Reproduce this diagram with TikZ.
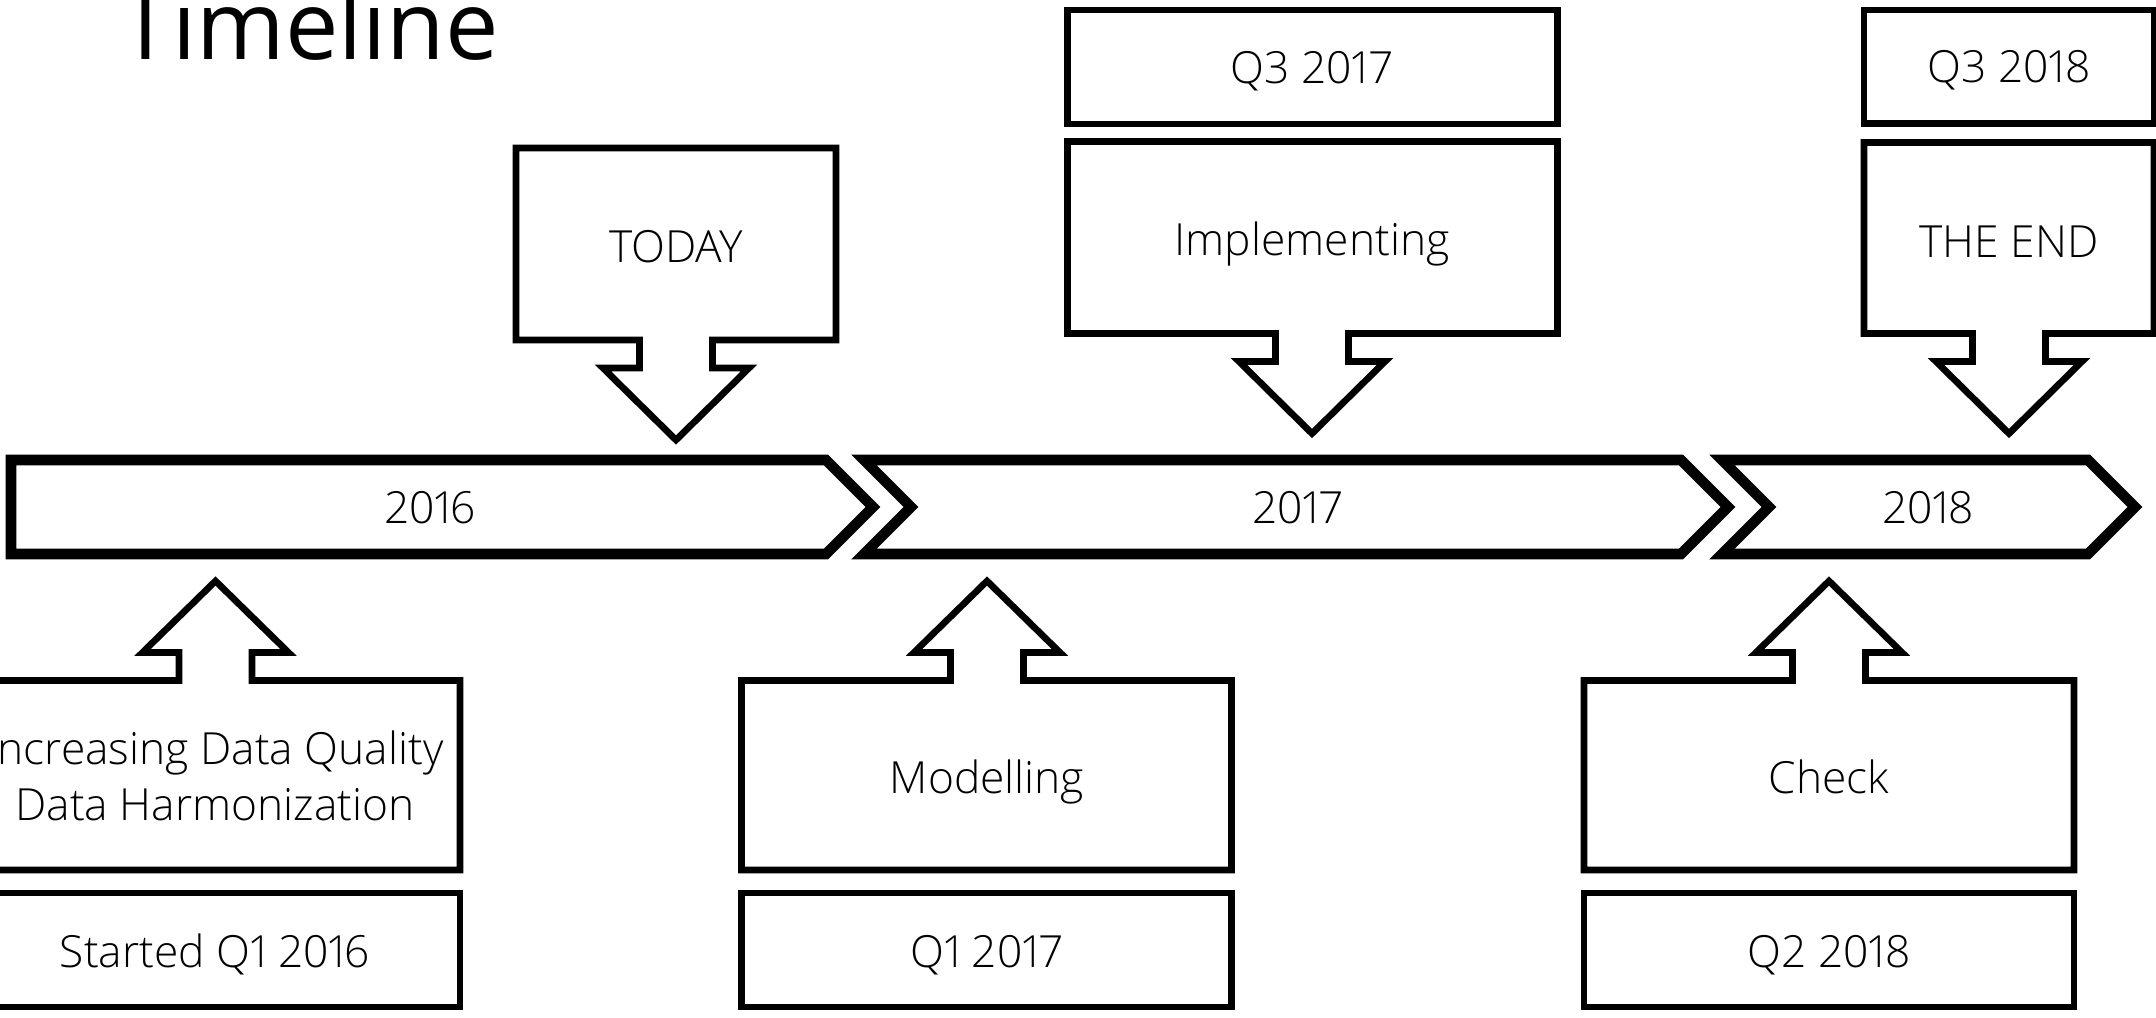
\documentclass[tikz,border=0pt]{standalone}
\usepackage{fontspec}
\setmainfont{Open Sans}[UprightFont={* Light},Numbers=Proportional]
\newfontfamily\headfont{Open Sans}
\usepackage{tikz}
\usetikzlibrary{positioning}

\begin{document}
\begin{tikzpicture}[x=0.01cm,y=-0.01cm,
	bar/.style={draw=black,line width=3pt,fill=white},
	callout/.style={draw=black,line width=1.9pt,fill=white},
	lbl/.style={anchor=base,inner sep=0pt,font=\fontsize{12.6}{15.9}\selectfont}]
	\useasboundingbox (0,0) rectangle (2156,1017);
		\node[anchor=base west,inner sep=0pt,font=\headfont\fontsize{27.1}{30}\selectfont] (title) at (119,59) {Timeline};
	% years
		\draw[bar] (11,460) -- (826,460) -- (873,507) -- (826,554) -- (11,554) -- cycle;
		\draw[bar] (864,460) -- (1681,460) -- (1728,507) -- (1681,554) -- (864,554) -- (911,507) -- cycle;
		\draw[bar] (1722,460) -- (2088,460) -- (2135,507) -- (2088,554) -- (1722,554) -- (1769,507) -- cycle;
		\node[lbl] (y2016) at (430,523) {2016};
		\node[lbl] (y2017) at (1298,523) {2017};
		\node[lbl] (y2018) at (1928,523) {2018};
	% above the line
		\draw[callout] (516,148) -- (836,148) -- (836,340) -- (712.5,340) -- (712.5,368) -- (749,368) -- (676,440) -- (603,368) -- (639.5,368) -- (639.5,340) -- (516,340) -- cycle;
		\node[lbl] (today) at (676,262) {TODAY};
		\draw[callout] (1067.5,10) rectangle (1557.5,124);
		\draw[callout] (1067.5,141.5) -- (1557.5,141.5) -- (1557.5,333.5) -- (1348.5,333.5) -- (1348.5,361.5) -- (1385,361.5) -- (1312,433.5) -- (1239,361.5) -- (1275.5,361.5) -- (1275.5,333.5) -- (1067.5,333.5) -- cycle;
		\node[lbl] (qthree17) at (1312,83) {Q3 2017};
		\node[lbl] (impl) at (1312,255) {Implementing};
		\draw[callout] (1864,10) rectangle (2154,123.5);
		\draw[callout] (1864,142.5) -- (2154,142.5) -- (2154,333.5) -- (2045.5,333.5) -- (2045.5,361.5) -- (2082,361.5) -- (2009,433.5) -- (1936,361.5) -- (1972.5,361.5) -- (1972.5,333.5) -- (1864,333.5) -- cycle;
		\node[lbl] (qthree18) at (2009,82) {Q3 2018};
		\node[lbl] (theend) at (2009,257) {THE END};
	% below the line
		\draw[callout] (-30,870) -- (460,870) -- (460,680.5) -- (252,680.5) -- (252,652.5) -- (288.5,652.5) -- (215.5,581) -- (142.5,652.5) -- (179,652.5) -- (179,680.5) -- (-30,680.5) -- cycle;
		\draw[callout] (-30,893) rectangle (460,1007);
		\node[lbl,anchor=center,align=center] (incr) at (215,776) {Increasing Data Quality\\Data Harmonization};
		\node[lbl] (started) at (215,967) {Started Q1 2016};
		\draw[callout] (741.5,870) -- (1231.5,870) -- (1231.5,680.5) -- (1023.5,680.5) -- (1023.5,652.5) -- (1060,652.5) -- (987,581) -- (914,652.5) -- (950.5,652.5) -- (950.5,680.5) -- (741.5,680.5) -- cycle;
		\draw[callout] (741.5,893) rectangle (1231.5,1007);
		\node[lbl] (model) at (987,793) {Modelling};
		\node[lbl] (qone17) at (987,967) {Q1 2017};
		\draw[callout] (1584,870) -- (2074,870) -- (2074,680.5) -- (1865.5,680.5) -- (1865.5,652.5) -- (1902,652.5) -- (1829,581) -- (1756,652.5) -- (1792.5,652.5) -- (1792.5,680.5) -- (1584,680.5) -- cycle;
		\draw[callout] (1584,893) rectangle (2074,1007);
		\node[lbl] (check) at (1829,793) {Check};
		\node[lbl] (qtwo18) at (1829,967) {Q2 2018};
\end{tikzpicture}
\end{document}
